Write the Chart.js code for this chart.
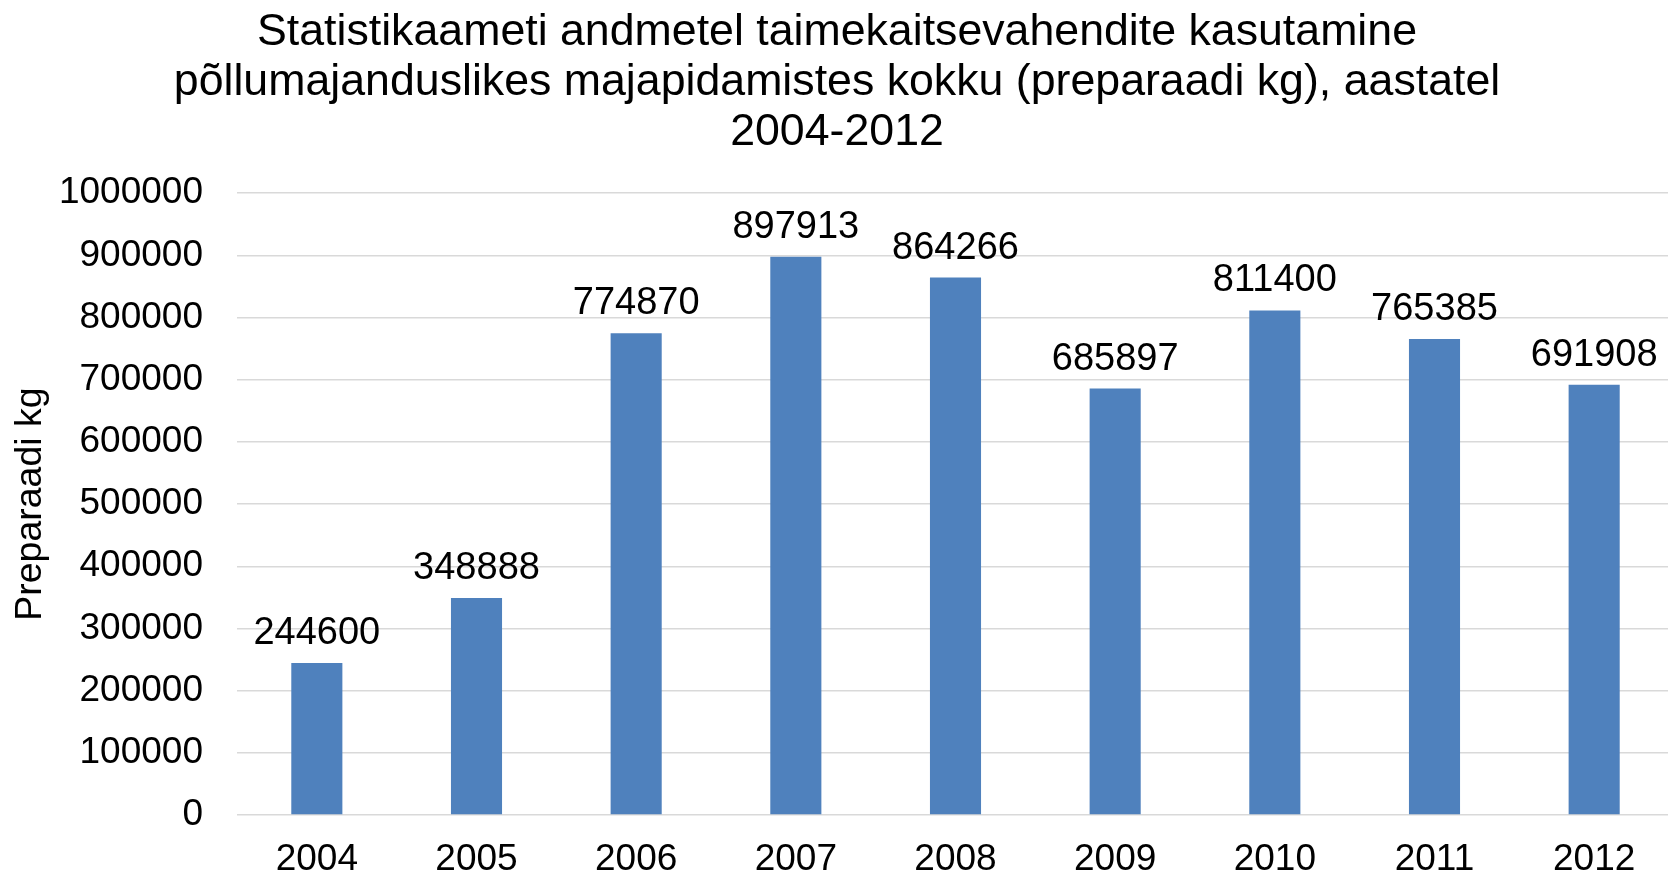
<!DOCTYPE html>
<html>
<head>
<meta charset="utf-8">
<script src="https://cdn.jsdelivr.net/npm/chart.js@4"></script>
<style>
  html, body { margin: 0; padding: 0; background: #fff; overflow: hidden; }
  #wrap { width: 1674px; height: 875px; }
</style>
</head>
<body>
<div id="wrap"><canvas id="chart"></canvas></div>
<script>
// --- DATA ---
const years = ['2004', '2005', '2006', '2007', '2008', '2009', '2010', '2011', '2012'];
const kgValues = [244600, 348888, 774870, 897913, 864266, 685897, 811400, 765385, 691908];
const yTicks = [0, 100000, 200000, 300000, 400000, 500000, 600000, 700000, 800000, 900000, 1000000];
const titleLines = [
    'Statistikaameti andmetel taimekaitsevahendite kasutamine',
    'põllumajanduslikes majapidamistes kokku (preparaadi kg), aastatel',
    '2004-2012'
];
const yTitle = 'Preparaadi kg';

const FONT = '"Liberation Sans", Arial, sans-serif';
const BAR_BLUE = '#4F81BD';

// value labels above bars
const barLabels = {
    id: 'barLabels',
    afterDatasetsDraw(chart) {
        const ctx = chart.ctx;
        const meta = chart.getDatasetMeta(0);
        ctx.save();
        ctx.font = '38px ' + FONT;
        ctx.fillStyle = '#000';
        ctx.textAlign = 'center';
        ctx.textBaseline = 'alphabetic';
        meta.data.forEach((bar, i) => {
            ctx.fillText(String(kgValues[i]), bar.x, bar.y - 19);
        });
        ctx.restore();
    }
};

new Chart(document.getElementById('chart'), {
    type: 'bar',
    data: {
        labels: years,
        datasets: [{
            data: kgValues,
            backgroundColor: BAR_BLUE,
            borderWidth: 0,
            barPercentage: 0.32,
            categoryPercentage: 1
        }]
    },
    options: {
        responsive: true,
        maintainAspectRatio: false,
        animation: false,
        layout: { padding: 0 },
        plugins: {
            legend: { display: false },
            tooltip: { enabled: false },
            title: {
                display: true,
                text: titleLines,
                color: '#000',
                font: { family: FONT, size: 44.7, weight: 'normal', lineHeight: 1.12 },
                padding: { top: 8, bottom: 35 }
            }
        },
        scales: {
            x: {
                grid: { display: false, drawTicks: false },
                border: { display: false },
                ticks: { color: '#000', font: { family: FONT, size: 37 }, padding: 23, maxRotation: 0 },
                afterFit: (scale) => { scale.height = 60; }
            },
            y: {
                min: 0,
                max: 1000000,
                afterBuildTicks: (scale) => { scale.ticks = yTicks.map(v => ({ value: v })); },
                grid: { color: '#d9d9d9', lineWidth: 1.5, drawTicks: false },
                border: { display: false },
                ticks: {
                    color: '#000',
                    font: { family: FONT, size: 37 },
                    padding: 34,
                    callback: (v) => String(v)
                },
                title: {
                    display: true,
                    text: yTitle,
                    color: '#000',
                    font: { family: FONT, size: 37.5 },
                    padding: { top: 8, bottom: 0 }
                },
                afterFit: (scale) => { scale.width = 237; }
            }
        }
    },
    plugins: [barLabels]
});
</script>
</body>
</html>
